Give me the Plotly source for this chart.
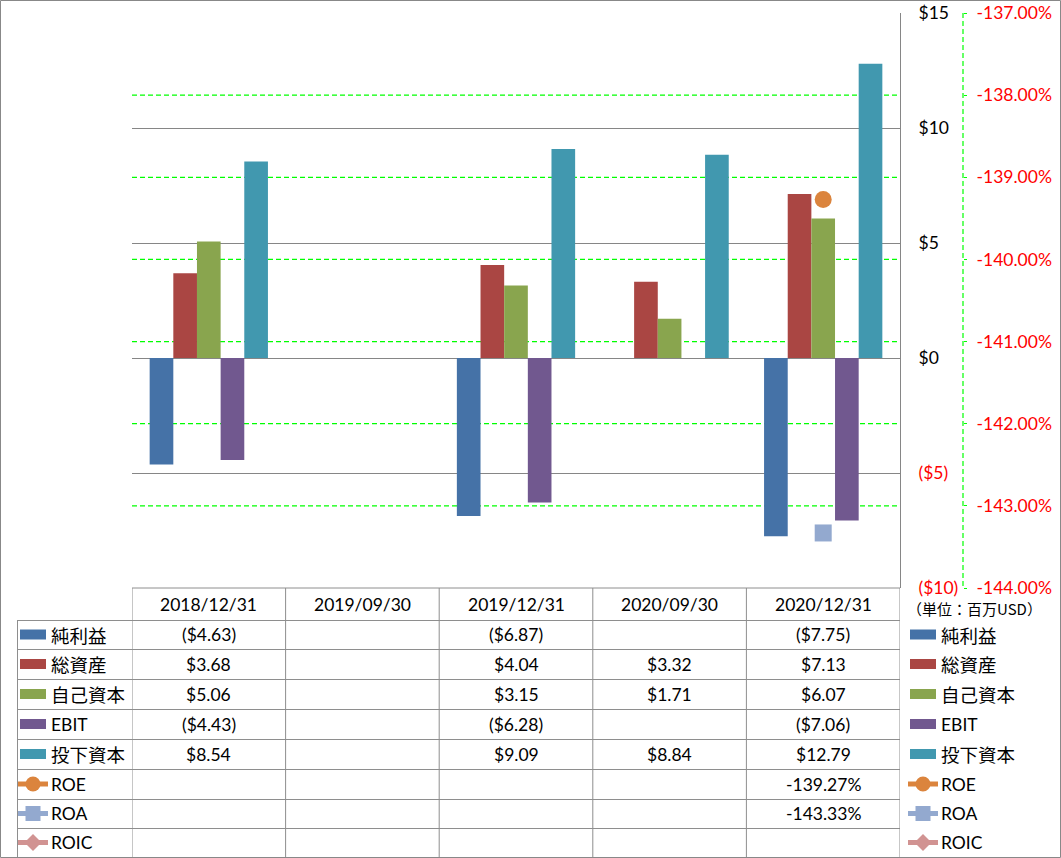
import plotly.graph_objects as go

# ---------------- data ----------------
categories = ["2018/12/31", "2019/09/30", "2019/12/31", "2020/09/30", "2020/12/31"]
net_income = [-4.63, None, -6.87, None, -7.75]
total_assets = [3.68, None, 4.04, 3.32, 7.13]
equity = [5.06, None, 3.15, 1.71, 6.07]
ebit = [-4.43, None, -6.28, None, -7.06]
invested_capital = [8.54, None, 9.09, 8.84, 12.79]
roe = [None, None, None, None, -139.27]
roa = [None, None, None, None, -143.33]
roic = [None, None, None, None, None]

bar_names = ["純利益", "総資産", "自己資本", "EBIT", "投下資本"]
bar_values = [net_income, total_assets, equity, ebit, invested_capital]
bar_colors = ["#4572A7", "#AA4643", "#89A54E", "#71588F", "#4198AF"]

line_names = ["ROE", "ROA", "ROIC"]
line_values = [roe, roa, roic]
line_colors = ["#DB843D", "#93A9CF", "#D19392"]
line_symbols = ["circle", "square", "diamond"]

left_ticks = [-10, -5, 0, 5, 10, 15]
right_ticks = [-144, -143, -142, -141, -140, -139, -138, -137]
unit_label = "（単位：百万USD）"

# ---------------- geometry helpers (pixels -> paper) ----------------
W, H = 1061, 858
def X(p):
    return p / W
def Y(p):
    return 1 - p / H

PLOT_L, PLOT_R, PLOT_T, PLOT_B = 132, 900, 13, 588
SEC_AXIS_X = 963
row_edges = [620, 649, 679, 709, 739, 769, 799, 828, 857]
HEADER_Y = 604

LATIN = "Lato, 'Noto Sans CJK JP', sans-serif"
CJK = "'Noto Sans CJK JP', sans-serif"
FS = 17.5
GRID = "#868686"
TABLE = "#8E8E8E"
GREEN = "#00FF00"
RED = "#FF0000"


def money(v):
    if v is None:
        return ""
    return f"(${abs(v):.2f})" if v < 0 else f"${v:.2f}"


def pct(v):
    return "" if v is None else f"{v:.2f}%"


def money_tick(v):
    s = f"(${abs(v)})" if v < 0 else f"${v}"
    return f"<span style='color:{RED}'>{s}</span>" if v < 0 else s


fig = go.Figure()

for name, vals, col in zip(bar_names, bar_values, bar_colors):
    fig.add_trace(go.Bar(x=categories, y=vals, name=name, marker=dict(color=col, line=dict(width=0)),
                         showlegend=False))

for name, vals, col, sym in zip(line_names, line_values, line_colors, line_symbols):
    fig.add_trace(go.Scatter(x=categories, y=vals, name=name, yaxis="y2", mode="markers",
                             marker=dict(symbol=sym, size=17, color=col, line=dict(width=0)),
                             showlegend=False))

shapes = []
annotations = []

# secondary-axis gridlines (green dashed), placed through the y2 scale
for v in right_ticks[1:-1]:
    shapes.append(dict(type="line", xref="paper", yref="y2", x0=X(PLOT_L), x1=X(PLOT_R), y0=v, y1=v,
                       layer="below", line=dict(color=GREEN, width=1.3, dash="5px,3px")))

# outer border
shapes.append(dict(type="rect", xref="paper", yref="paper", x0=X(0.5), x1=X(W - 0.5), y0=Y(0.5), y1=Y(H - 0.5),
                   line=dict(color="#888888", width=1)))

# secondary axis dashed line
shapes.append(dict(type="line", xref="paper", yref="paper", x0=X(SEC_AXIS_X), x1=X(SEC_AXIS_X),
                   y0=Y(PLOT_T), y1=Y(PLOT_B), line=dict(color=GREEN, width=1.2, dash="5px,3px")))

# table vertical lines (category boundaries)
for i in range(len(categories) + 1):
    shapes.append(dict(type="line", xref="x", yref="paper", x0=i - 0.5, x1=i - 0.5,
                       y0=Y(PLOT_B), y1=Y(H - 1), line=dict(color=TABLE, width=1)))
# left column vertical line
shapes.append(dict(type="line", xref="paper", yref="paper", x0=X(17.5), x1=X(17.5),
                   y0=Y(row_edges[0]), y1=Y(H - 1), line=dict(color=TABLE, width=1)))
# header top line
shapes.append(dict(type="line", xref="paper", yref="paper", x0=X(PLOT_L), x1=X(PLOT_R),
                   y0=Y(PLOT_B), y1=Y(PLOT_B), line=dict(color=TABLE, width=1)))
# row lines
for e in row_edges[:-1]:
    shapes.append(dict(type="line", xref="paper", yref="paper", x0=X(17), x1=X(PLOT_R),
                       y0=Y(e + 0.5), y1=Y(e + 0.5), line=dict(color=TABLE, width=1)))

# header
for i, c in enumerate(categories):
    annotations.append(dict(x=i, y=Y(HEADER_Y), xref="x", yref="paper", text=c, showarrow=False,
                            xanchor="center", yanchor="middle", font=dict(family=LATIN, size=FS, color="black")))

# unit label
annotations.append(dict(x=X(905), y=Y(608), xref="paper", yref="paper", text=unit_label, showarrow=False,
                        xanchor="left", yanchor="middle", font=dict(family=CJK, size=15, color="black")))

all_names = bar_names + line_names
row_centers = [(row_edges[k] + row_edges[k + 1]) / 2 for k in range(len(all_names))]


def key(x0, yc, k):
    if k < len(bar_names):
        shapes.append(dict(type="rect", xref="paper", yref="paper", x0=X(x0), x1=X(x0 + 26),
                           y0=Y(yc - 5), y1=Y(yc + 5), fillcolor=bar_colors[k], line=dict(width=0)))
    else:
        j = k - len(bar_names)
        col = line_colors[j]
        shapes.append(dict(type="line", xref="paper", yref="paper", x0=X(x0 - 2), x1=X(x0 + 28),
                           y0=Y(yc), y1=Y(yc), line=dict(color=col, width=5)))
        cx = x0 + 13
        r = 7.5
        if line_symbols[j] == "circle":
            shapes.append(dict(type="circle", xref="paper", yref="paper", x0=X(cx - r), x1=X(cx + r),
                               y0=Y(yc - r), y1=Y(yc + r), fillcolor=col, line=dict(width=0)))
        elif line_symbols[j] == "square":
            shapes.append(dict(type="rect", xref="paper", yref="paper", x0=X(cx - r), x1=X(cx + r),
                               y0=Y(yc - r), y1=Y(yc + r), fillcolor=col, line=dict(width=0)))
        else:
            r = 8.5
            path = (f"M {X(cx - r)} {Y(yc)} L {X(cx)} {Y(yc - r)} L {X(cx + r)} {Y(yc)} "
                    f"L {X(cx)} {Y(yc + r)} Z")
            shapes.append(dict(type="path", xref="paper", yref="paper", path=path, fillcolor=col,
                               line=dict(width=0)))


def label(x0, yc, name):
    is_cjk = any(ord(ch) > 0x2E80 for ch in name)
    annotations.append(dict(x=X(x0), y=Y(yc), xref="paper", yref="paper", text=name, showarrow=False,
                            xanchor="left", yanchor="middle",
                            font=dict(family=CJK if is_cjk else LATIN, size=18.5 if is_cjk else FS,
                                      color="black")))


for k, name in enumerate(all_names):
    yc = row_centers[k]
    # left table legend
    key(20, yc, k)
    label(49, yc, name)
    # right legend
    key(910, yc, k)
    label(939, yc, name)
    # cell values
    vals = (bar_values + line_values)[k]
    for i, v in enumerate(vals):
        txt = money(v) if k < len(bar_names) else pct(v)
        if txt:
            annotations.append(dict(x=i, y=Y(yc), xref="x", yref="paper", text=txt, showarrow=False,
                                    xanchor="center", yanchor="middle",
                                    font=dict(family=LATIN, size=FS, color="black")))

fig.update_layout(
    width=W, height=H, autosize=False,
    margin=dict(l=0, r=0, t=0, b=0, pad=0, autoexpand=False),
    paper_bgcolor="white", plot_bgcolor="white",
    font=dict(family=LATIN, size=FS, color="black"),
    barmode="group", bargap=0.23, bargroupgap=0,
    showlegend=False,
    xaxis=dict(domain=[X(PLOT_L), X(PLOT_R)], type="category", range=[-0.5, 4.5], automargin=False,
               showticklabels=False, showgrid=False, zeroline=False, showline=False, ticks=""),
    yaxis=dict(domain=[Y(PLOT_B), Y(PLOT_T)], range=[-10, 15], side="right", automargin=False,
               tickvals=left_ticks, ticktext=[money_tick(v) for v in left_ticks],
               showgrid=True, gridcolor=GRID, gridwidth=1, zeroline=True, zerolinecolor=GRID, zerolinewidth=1,
               showline=True, linecolor=GRID, linewidth=1, ticks="", ticklabelstandoff=14,
               tickfont=dict(family=LATIN, size=FS, color="black")),
    yaxis2=dict(overlaying="y", anchor="free", position=X(SEC_AXIS_X), side="right", automargin=False,
                range=[-144, -137], tickvals=right_ticks, ticktext=[pct(v) for v in right_ticks],
                showgrid=False, zeroline=False,
                showline=False, ticks="outside", ticklen=3, tickcolor=GREEN, ticklabelstandoff=6,
                tickfont=dict(family=LATIN, size=FS, color=RED)),
    shapes=shapes, annotations=annotations,
)

fig.write_html("out.html", config={"displayModeBar": False},
               post_script="document.body.style.margin='0';document.body.style.padding='0';")
